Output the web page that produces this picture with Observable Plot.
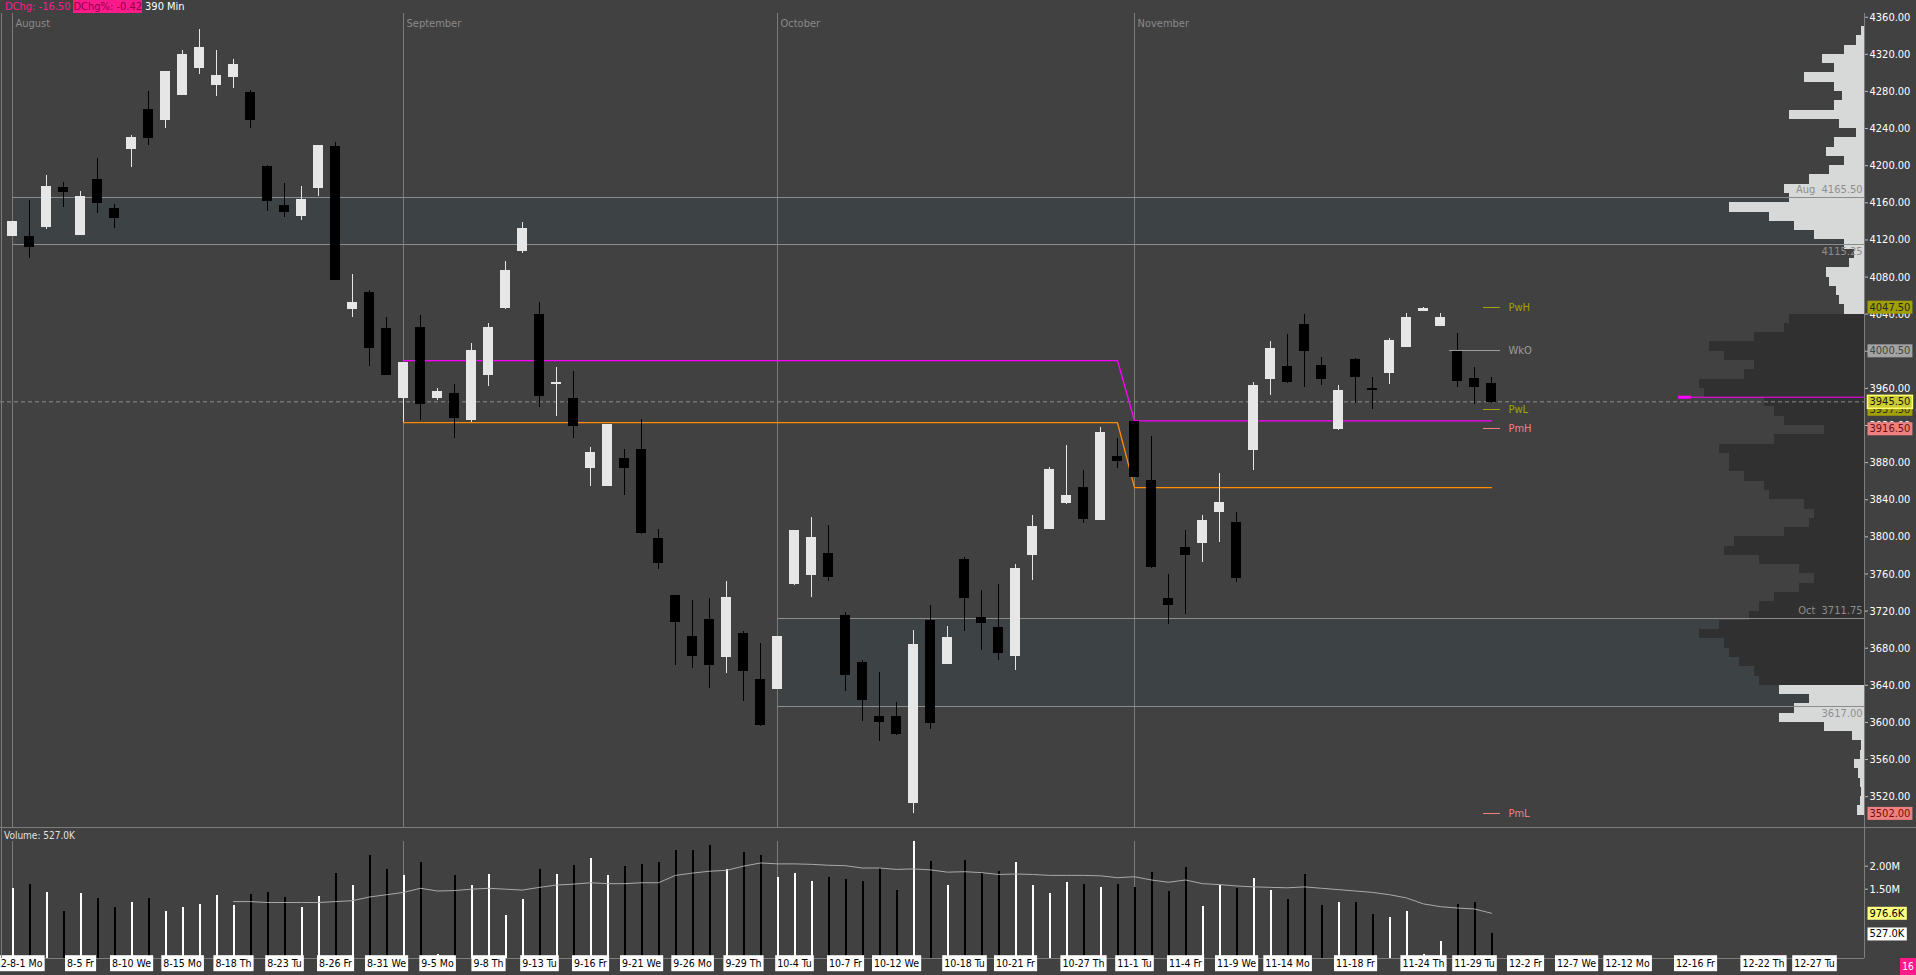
<!DOCTYPE html>
<html>
<head>
<meta charset="utf-8">
<title>ES 390 Min</title>
<script src="https://cdn.jsdelivr.net/npm/d3@7"></script>
<script src="https://cdn.jsdelivr.net/npm/@observablehq/plot@0.6"></script>
<style>
  html, body { margin: 0; padding: 0; background: #414141; }
  #chart { position: relative; width: 1916px; height: 975px; overflow: hidden; background: #414141;
           font-family: "DejaVu Sans Condensed", "Liberation Sans", sans-serif; }
  #chart > * { position: absolute; }
  #header { left: 5px; top: 0; font-size: 11px; line-height: 13px; white-space: nowrap; }
  #header .chg { color: #ff1a8c; }
  #header .pct { background: #ff1a8c; color: #8c0048; margin-left: 3px; }
  #header .tf { color: #fff; margin-left: 3px; }
  #main { left: 0; top: 13px; }
  #volume { left: 0; top: 828px; }
  .sep { background: #7d7d7d; }
  #volLabel { left: 4px; top: 830px; font-size: 10px; color: #e0e0e0; }
  #page { left: 1900px; top: 958px; width: 16px; height: 17px; background: #ff1a8c; color: #fff;
          font-size: 10px; line-height: 17px; text-align: center; }
</style>
</head>
<body>
<div id="chart">
  <div id="main"></div>
  <div id="volume"></div>
  <div class="sep" style="left:0;top:827px;width:1916px;height:1px"></div>
  <div class="sep" style="left:1864px;top:13px;width:1px;height:945px"></div>
  <div class="sep" style="left:1px;top:13px;width:1px;height:945px"></div>
  <div id="header"></div>
  <div id="volLabel"></div>
  <div id="page">16</div>
</div>
<script>
// ---- data (Aug - Nov 2022) ----
const firstDate = "2022-08-01";
const lastDate = "2022-11-30";
const barMinutes = 390;

const open = [
  4124, 4122.5, 4134.5, 4175.5, 4125.75, 4184, 4152.75, 4217.75, 4259.5, 4249,
  4276.75, 4305.75, 4287.5, 4296, 4277.75, 4198, 4156, 4146.25, 4176.5, 4219.5,
  4046, 4062.25, 4023.5, 3950.25, 4025.5, 3950.25, 3953.5, 3925.5, 3974, 4047.25,
  4108, 4038.5, 3965, 3948, 3874, 3854.5, 3883.5, 3894, 3797.25, 3735.75,
  3692.5, 3710, 3670.25, 3694.75, 3645.25, 3635.75, 3749, 3758.75, 3781, 3714.5,
  3663.5, 3605.5, 3605.5, 3513, 3708.75, 3662.75, 3774.5, 3712, 3701.25, 3671.5,
  3780.25, 3809, 3837, 3852, 3818.75, 3885.5, 3923.25, 3859.75, 3732.5, 3787.5,
  3793.25, 3826.5, 3814.5, 3894, 3970.75, 3982.5, 4027.75, 3983.5, 3916.75, 3991,
  3959.5, 3977, 4005, 4043.25, 4027.75, 4000.5, 3969.5, 3964.25
];
const high = [
  4139.5, 4162.5, 4189.5, 4182, 4172.25, 4207.75, 4158.25, 4232.5, 4280, 4301.5,
  4324, 4346.75, 4324, 4314.5, 4281, 4200.25, 4180.75, 4177.5, 4221.75, 4225,
  4082.75, 4065.5, 4036.5, 3987, 4038.5, 3960, 3964.25, 4008.5, 4030, 4096.75,
  4138.25, 4052.5, 3982.5, 3978.25, 3896.25, 3920, 3894, 3926.5, 3808, 3735.75,
  3731.5, 3733.5, 3752, 3698, 3685, 3692.5, 3807, 3821, 3812.25, 3718.75,
  3666.75, 3653.75, 3621.5, 3699, 3726, 3703.5, 3777.75, 3742.5, 3748.75, 3770.25,
  3823, 3874.75, 3898.5, 3871.5, 3917.75, 3906, 3923.25, 3908.25, 3759.5, 3807,
  3823, 3868.25, 3826.25, 3966.25, 4010.5, 4018, 4039.5, 3993.25, 3963, 3992.25,
  3971.75, 4013.75, 4040.75, 4047.5, 4040.75, 4019, 3982.5, 3971.75
];
const low = [
  4123.5, 4100.25, 4131, 4155.25, 4125, 4148.75, 4132.5, 4198.5, 4221.75, 4240.5,
  4276, 4298.25, 4274.5, 4283.25, 4240.5, 4151, 4144.5, 4141, 4166.75, 4077,
  4036.5, 3983.5, 3973.5, 3923.25, 3925.5, 3947, 3906, 3923.25, 3962.5, 4045.25,
  4105.5, 3939.75, 3930, 3906.25, 3854.25, 3854.5, 3845, 3803, 3765.25, 3661.75,
  3658.5, 3637, 3653, 3623, 3596, 3635.75, 3748, 3735, 3752.25, 3633.75,
  3601.5, 3579.75, 3586.25, 3502, 3592.75, 3662, 3698.5, 3678, 3667, 3656.25,
  3753.25, 3808, 3835, 3814.5, 3817.5, 3873.5, 3864, 3766, 3706, 3716.75,
  3772.75, 3794.25, 3751.25, 3871.5, 3952.25, 3965.25, 3961, 3963, 3914.5, 3943.75,
  3937.5, 3964.25, 4004, 4043, 4026.75, 3961, 3942.5, 3943.5
];
const close = [
  4139, 4112.25, 4176.5, 4171.5, 4166, 4159.5, 4143.5, 4229.25, 4229.5, 4300.5,
  4318.75, 4326.25, 4296, 4308, 4249, 4161.75, 4150, 4162.5, 4221.5, 4077.25,
  4051.5, 4004, 3974, 3986.75, 3943.75, 3955.5, 3928.5, 3999.75, 4024.5, 4086,
  4131.75, 3951.5, 3965.75, 3919.25, 3889.75, 3920, 3874, 3804, 3771.5, 3708,
  3671.5, 3661.75, 3733.5, 3655.25, 3597, 3692.5, 3805.75, 3798.25, 3756.5, 3651,
  3624, 3600.25, 3587.25, 3683, 3599.25, 3690.5, 3734, 3707, 3674.75, 3764.75,
  3810, 3871.5, 3843.5, 3819.75, 3911.5, 3882.25, 3865, 3767.25, 3726.75, 3780.25,
  3816.5, 3836, 3755.5, 3962, 4002, 3967.5, 4000.75, 3970, 3956.75, 3972.75,
  3958.75, 4010.5, 4035.25, 4045, 4035.25, 3968.5, 3962, 3945.5
];
// volume in millions of contracts
const volume = [
  1.52, 1.61, 1.43, 1.02, 1.41, 1.30, 1.10, 1.22, 1.30, 1.02,
  1.11, 1.17, 1.36, 1.15, 1.39, 1.43, 1.32, 1.10, 1.34, 1.85,
  1.57, 2.24, 1.93, 1.80, 2.07, 0.09, 1.80, 1.57, 1.83, 0.93,
  1.28, 1.93, 1.83, 2.02, 2.17, 1.80, 2.00, 2.04, 2.07, 2.35,
  2.33, 2.46, 1.93, 2.30, 2.24, 1.76, 1.85, 1.67, 1.76, 1.70,
  1.67, 1.96, 1.48, 2.54, 2.11, 1.57, 2.13, 1.85, 1.89, 2.07,
  1.59, 1.41, 1.65, 1.61, 1.54, 1.61, 1.54, 1.87, 1.46, 1.98,
  1.13, 1.57, 1.52, 1.74, 1.48, 1.28, 1.83, 1.15, 1.20, 1.20,
  0.96, 0.89, 1.02, 0.07, 0.37, 1.17, 1.22, 0.527
];
// volume moving average, starts on 2022-08-18
const volumeAvgStart = "2022-08-18";
const volumeAvg = [
  1.23, 1.23, 1.21, 1.21, 1.21, 1.21, 1.23, 1.25, 1.33, 1.38,
  1.43, 1.52, 1.46, 1.47, 1.50, 1.52, 1.50, 1.48, 1.54, 1.59,
  1.61, 1.64, 1.62, 1.62, 1.64, 1.64, 1.80, 1.85, 1.89, 1.91,
  2.00, 2.07, 2.05, 2.05, 2.04, 2.02, 2.01, 1.96, 1.96, 1.93,
  1.94, 1.92, 1.87, 1.88, 1.86, 1.82, 1.83, 1.82, 1.80, 1.80,
  1.80, 1.79, 1.75, 1.77, 1.70, 1.65, 1.70, 1.62, 1.60, 1.57,
  1.55, 1.54, 1.53, 1.55, 1.52, 1.49, 1.46, 1.43, 1.38, 1.31,
  1.18, 1.12, 1.09, 1.07, 0.9766
];

const months = ["August", "September", "October", "November"];
const monthStarts = ["2022-08-01", "2022-09-01", "2022-10-03", "2022-11-01"];

// monthly value areas
const bandMonths = ["Aug", "Oct"];
const bandStarts = ["2022-08-01", "2022-10-03"];
const bandHigh = [4165.5, 3711.75];
const bandLow = [4115.25, 3617];

// range lines (magenta high / orange low)
const levelStarts = ["2022-09-01", "2022-11-01"];
const levelHigh = [3990, 3925];
const levelLow = [3923, 3853];

// reference levels at the right edge
const refNames = ["PwH", "WkO", "PwL", "PmH", "PmL"];
const refPrices = [4047.5, 4000.5, 3937.5, 3916.5, 3502];
const refStarts = ["2022-11-30", "2022-11-28", "2022-11-30", "2022-11-30", "2022-11-30"];
const refKinds = ["olive", "gray", "olive", "salmon", "salmon"];

// volume profile, 10 point rows from 4350 down to 3500
const profileTop = 4350;
const profileStep = 10;
const profileVol = [
  3, 8, 20, 42, 30, 60, 30, 22, 30, 75,
  25, 8, 30, 38, 20, 35, 55, 80, 75, 135,
  95, 70, 50, 20, 10, 15, 38, 35, 28, 25,
  20, 75, 80, 110, 155, 140, 110, 120, 165, 160,
  100, 90, 80, 40, 90, 145, 135, 135, 120, 100,
  95, 60, 50, 55, 80, 130, 140, 105, 65, 50,
  65, 90, 105, 115, 145, 165, 140, 135, 125, 110,
  105, 85, 55, 70, 85, 40, 12, 3, 4, 10,
  6, 4, 3, 4, 7
];
const valueAreaHigh = 4040;
const valueAreaLow = 3640;
const pocPrice = 3950.5;
const pocVol = 186;

const tickDates = [
  "2022-08-01", "2022-08-05", "2022-08-10", "2022-08-15", "2022-08-18", "2022-08-23",
  "2022-08-26", "2022-08-31", "2022-09-05", "2022-09-08", "2022-09-13", "2022-09-16",
  "2022-09-21", "2022-09-26", "2022-09-29", "2022-10-04", "2022-10-07", "2022-10-12",
  "2022-10-18", "2022-10-21", "2022-10-27", "2022-11-01", "2022-11-04", "2022-11-09",
  "2022-11-14", "2022-11-18", "2022-11-24", "2022-11-29", "2022-12-02", "2022-12-07",
  "2022-12-12", "2022-12-16", "2022-12-22", "2022-12-27"
];
const priceTicks = d3.range(3520, 4361, 40);
const volumeTicks = [1.5, 2];

// ---- layout ----
const W = 1916;
const axisX = 1864;          // right price axis
const barPx = 17;            // one trading day
const firstBarPx = 12;
const xDomain = [-firstBarPx / barPx, (axisX - firstBarPx) / barPx];
const xEnd = xDomain[1];
const mainH = 815;
const priceDomain = [3485.7, 4364];
const FONT = `"DejaVu Sans Condensed", "Liberation Sans", sans-serif`;
const LIGHT = "#e6e6e6", DARK = "#000000";

const parse = d3.utcParse("%Y-%m-%d");
const isWeekday = (d) => d.getUTCDay() % 6 !== 0;
const start = parse(firstDate);
const dayIndex = (s) => d3.utcDays(start, parse(s)).filter(isWeekday).length;
const dates = d3.utcDays(start, d3.utcDay.offset(parse(lastDate), 1)).filter(isWeekday);

const bars = dates.map((date, i) => ({
  i, date,
  open: open[i], high: high[i], low: low[i], close: close[i],
  volume: volume[i],
}));
const isUp = (d) => d.close >= d.open;
const lastIdx = bars.length - 1;
const last = bars[lastIdx];

const avgStart = dayIndex(volumeAvgStart);
const avgData = volumeAvg.map((v, k) => ({ i: avgStart + k, avg: v }));

const monthData = months.map((name, k) => ({ name, i: dayIndex(monthStarts[k]) }));

const bands = bandMonths.map((m, k) => ({
  month: m, start: dayIndex(bandStarts[k]), high: bandHigh[k], low: bandLow[k],
}));

const levelIdx = levelStarts.map(dayIndex);
const levelSeries = bars
  .filter((d) => d.i >= levelIdx[0])
  .map((d) => {
    const k = d3.bisectRight(levelIdx, d.i) - 1;
    return { i: d.i, hi: levelHigh[k], lo: levelLow[k] };
  });

const refColor = { olive: "#a3a300", gray: "#9c9c9c", salmon: "#f08080" };
const refs = refNames.map((name, k) => ({
  name, price: refPrices[k], start: dayIndex(refStarts[k]), kind: refKinds[k],
}));

const profile = profileVol.map((vol, k) => {
  const lo = profileTop - profileStep * (k + 1);
  return { lo, hi: lo + profileStep, vol, inVA: lo >= valueAreaLow && lo < valueAreaHigh };
});

const tagStyle = {
  olive: { bg: "#a0a000", fg: "#2a2a2a" },
  gray: { bg: "#a3a3a3", fg: "#444444" },
  salmon: { bg: "#f08080", fg: "#6b1010" },
  current: { bg: "#cccc30", fg: "#1a1a1a", border: "#ffff70" },
  avg: { bg: "#ffff80", fg: "#000" },
  vol: { bg: "#ffffff", fg: "#000" },
};
const priceTags = [...refs.map((r) => ({ price: r.price, kind: r.kind })), { price: last.close, kind: "current" }];
const priceTagText = (d) => d.price.toFixed(2);

const fmtVol = (v) => (v >= 1 ? v.toFixed(2) + "M" : (v * 1000).toFixed(1) + "K");
const volTags = [
  { v: volumeAvg[volumeAvg.length - 1], kind: "avg" },
  { v: last.volume, kind: "vol" },
];

const wd = d3.utcFormat("%a");
const md = d3.utcFormat("%-m-%-d");
const ticks = tickDates.map((s, k) => {
  const d = parse(s);
  return { i: dayIndex(s), label: (k === 0 ? "22-" : "") + md(d) + " " + wd(d).slice(0, 2) };
});

const baseStyle = {
  background: "transparent", color: "#fff", fontFamily: FONT, fontSize: "11px",
  overflow: "visible", maxWidth: "none",
};

// finds the text mark whose labels are exactly `texts`
function findTextGroup(svg, texts) {
  for (const g of svg.querySelectorAll("g")) {
    const items = Array.from(g.children).filter((c) => c.tagName === "text");
    if (items.length === texts.length && items.every((t, k) => t.textContent === texts[k])) return items;
  }
  return [];
}

// draws a box behind every text of a mark (price tags, date labels);
// a label running off the left edge is pulled in so only its first character is lost
function boxTexts(svg, texts, styleOf, padY = 0) {
  findTextGroup(svg, texts).forEach((t, k) => {
    const s = styleOf(k);
    const b = t.getBBox();
    const r = document.createElementNS("http://www.w3.org/2000/svg", "rect");
    r.setAttribute("x", b.x - 2);
    r.setAttribute("y", b.y - padY);
    r.setAttribute("width", b.width + 4);
    r.setAttribute("height", b.height + 2 * padY);
    r.setAttribute("fill", s.bg);
    if (s.border) {
      r.setAttribute("stroke", s.border);
      r.setAttribute("stroke-width", 1.5);
    }
    let tr = t.getAttribute("transform") || "";
    const ctm = t.getCTM();
    const left = ctm ? ctm.e + b.x : b.x;
    if (left < 0) {
      const shift = -left - b.width / t.textContent.length;
      tr += ` translate(${shift},0)`;
      t.setAttribute("transform", tr);
    }
    if (tr) r.setAttribute("transform", tr);
    t.parentNode.insertBefore(r, t);
  });
}

// ---- price panel ----
const mainPlot = Plot.plot({
  width: W, height: mainH,
  marginTop: 0, marginRight: W - axisX, marginBottom: 0, marginLeft: 0,
  style: baseStyle,
  color: { type: "identity" },
  x: { type: "linear", domain: xDomain, range: [0, axisX], axis: null },
  y: { domain: priceDomain, range: [mainH, 0], axis: null },
  marks: [
    Plot.rect(bands, { x1: "start", x2: () => xEnd, y1: "low", y2: "high", fill: "#3d4245" }),
    Plot.rect(profile, {
      x1: (d) => xEnd - d.vol / barPx, x2: () => xEnd, y1: "lo", y2: "hi",
      fill: (d) => (d.inVA ? "#303030" : "#d7d9d9"), shapeRendering: "crispEdges",
    }),
    Plot.ruleX(monthData, { x: "i", stroke: "#7b7b7b", shapeRendering: "crispEdges" }),
    Plot.text(monthData, {
      x: "i", text: "name", frameAnchor: "top", dy: 6, dx: 3, textAnchor: "start", fill: "#8a8a8a",
    }),
    Plot.ruleY(bands, { y: "high", x1: "start", x2: () => xEnd, stroke: "#8c8c8c", shapeRendering: "crispEdges" }),
    Plot.ruleY(bands, { y: "low", x1: "start", x2: () => xEnd, stroke: "#8c8c8c", shapeRendering: "crispEdges" }),
    Plot.text(bands, {
      x: () => xEnd, y: "high", text: (d) => `${d.month}  ${d.high.toFixed(2)}`,
      textAnchor: "end", dx: -2, dy: -8, fill: "#8e8e8e",
    }),
    Plot.text(bands, {
      x: () => xEnd, y: "low", text: (d) => d.low.toFixed(2),
      textAnchor: "end", dx: -2, dy: 7, fill: "#8e8e8e",
    }),
    Plot.ruleY([last.close], { stroke: "#8c8c8c", strokeDasharray: "4,3" }),
    Plot.ruleY([{ price: pocPrice, vol: pocVol }], {
      y: "price", x1: (d) => xEnd - d.vol / barPx, x2: () => xEnd, stroke: "#ff00ff",
    }),
    Plot.ruleY([{ price: pocPrice, vol: pocVol }], {
      y: "price", x1: (d) => xEnd - d.vol / barPx, x2: (d) => xEnd - (d.vol - 13) / barPx,
      stroke: "#ff00ff", strokeWidth: 3,
    }),
    Plot.line(levelSeries, { x: "i", y: "hi", stroke: "#ff00ff", strokeWidth: 1.3 }),
    Plot.line(levelSeries, { x: "i", y: "lo", stroke: "#ff8c00", strokeWidth: 1.3 }),
    Plot.ruleX(bars, {
      x: "i", y1: "low", y2: "high", stroke: (d) => (isUp(d) ? LIGHT : DARK),
      strokeWidth: 1.2, shapeRendering: "crispEdges",
    }),
    Plot.rect(bars, {
      x1: (d) => d.i - 0.32, x2: (d) => d.i + 0.32, y1: "open", y2: "close",
      fill: (d) => (isUp(d) ? LIGHT : DARK), insetTop: -0.6, insetBottom: -0.6,
      shapeRendering: "crispEdges",
    }),
    Plot.ruleY(refs, {
      y: "price", x1: (d) => d.start - 0.47, x2: () => lastIdx + 0.53,
      stroke: (d) => refColor[d.kind], shapeRendering: "crispEdges",
    }),
    Plot.text(refs, {
      x: () => lastIdx + 0.53, y: "price", text: "name", dx: 8, textAnchor: "start",
      fill: (d) => refColor[d.kind],
    }),
    Plot.axisY({
      anchor: "right", ticks: priceTicks, tickFormat: (d) => d.toFixed(2),
      tickSize: 3, tickPadding: 2, fill: "#fff", stroke: "#bbb", label: null,
    }),
    Plot.text(priceTags, {
      x: () => xEnd, y: "price", text: priceTagText, dx: 5, textAnchor: "start",
      fill: (d) => tagStyle[d.kind].fg,
    }),
  ],
});

// ---- volume panel ----
const volPlot = Plot.plot({
  width: W, height: 147,
  marginTop: 12.7, marginRight: W - axisX, marginBottom: 17.3, marginLeft: 0,
  style: baseStyle,
  color: { type: "identity" },
  x: { type: "linear", domain: xDomain, range: [0, axisX], axis: null },
  y: { domain: [0, 2.543], axis: null },
  marks: [
    Plot.ruleX(monthData, { x: "i", stroke: "#7b7b7b", shapeRendering: "crispEdges" }),
    Plot.ruleX(bars, {
      x: "i", y1: 0, y2: "volume", stroke: (d) => (isUp(d) ? "#ffffff" : "#000000"),
      strokeWidth: 2, shapeRendering: "crispEdges",
    }),
    Plot.line(avgData, { x: "i", y: "avg", stroke: "#a9a9a9", strokeWidth: 1 }),
    Plot.ruleY([0], { stroke: "#7d7d7d", shapeRendering: "crispEdges" }),
    Plot.axisY({
      anchor: "right", ticks: volumeTicks, tickFormat: fmtVol,
      tickSize: 3, tickPadding: 2, fill: "#fff", stroke: "#bbb", label: null,
    }),
    Plot.text(volTags, {
      x: () => xEnd, y: "v", text: (d) => fmtVol(d.v), dx: 5, textAnchor: "start", fill: "#000",
    }),
    Plot.text(ticks, {
      x: "i", text: "label", frameAnchor: "bottom", dy: 9, fill: "#000", fontSize: 10.5,
    }),
  ],
});

document.getElementById("main").appendChild(mainPlot);
document.getElementById("volume").appendChild(volPlot);
boxTexts(mainPlot, priceTags.map(priceTagText), (k) => tagStyle[priceTags[k].kind]);
boxTexts(volPlot, volTags.map((d) => fmtVol(d.v)), (k) => tagStyle[volTags[k].kind]);
boxTexts(volPlot, ticks.map((d) => d.label), () => ({ bg: "#ffffff" }), 2);

// ---- header and panel label ----
const dChg = last.close - bars[lastIdx - 1].close;
const dPct = (dChg / bars[lastIdx - 1].close) * 100;
document.getElementById("header").innerHTML =
  `<span class="chg">DChg: ${dChg.toFixed(2)}</span>` +
  `<span class="pct">DChg%: ${dPct.toFixed(2)}</span>` +
  `<span class="tf">${barMinutes} Min</span>`;
document.getElementById("volLabel").textContent = `Volume: ${fmtVol(last.volume)}`;
</script>
</body>
</html>
